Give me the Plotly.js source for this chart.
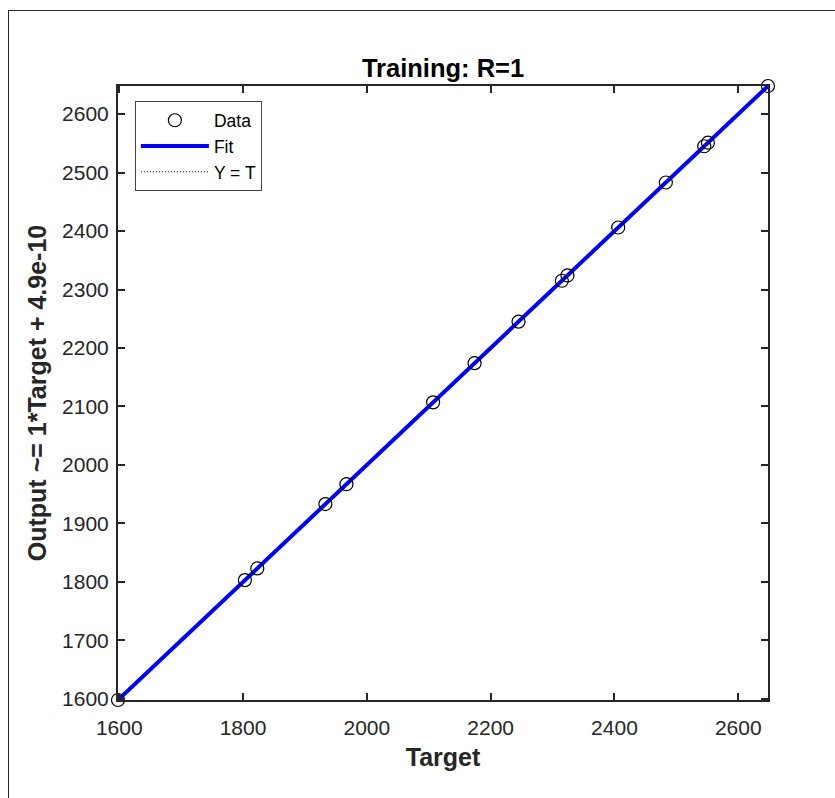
<!DOCTYPE html>
<html>
<head>
<meta charset="utf-8">
<script src="https://cdn.plot.ly/plotly-3.0.1.min.js"></script>
<style>
  html, body { margin: 0; padding: 0; background: #fff; overflow: hidden; }
  #frame { position: absolute; left: 8px; top: 10px; width: 900px; height: 900px; border: 1.5px solid #262626; box-sizing: border-box; }
  #chart { position: absolute; left: 0; top: 0; width: 835px; height: 798px; }
</style>
</head>
<body>
<div id="frame"></div>
<div id="chart"></div>
<script>
// Training targets and network outputs (R = 1, outputs equal targets)
const targets = [1598, 1803, 1823, 1933, 1967, 2107, 2174, 2245, 2315, 2324, 2406, 2483, 2545, 2551, 2648];
const outputs = [1598, 1803, 1823, 1933, 1967, 2107, 2174, 2245, 2315, 2324, 2406, 2483, 2545, 2551, 2648];
const fitSlope = 1;
const fitIntercept = 4.9e-10;
const axisRange = [1598, 2648];
const xTicks = [1600, 1800, 2000, 2200, 2400, 2600];
const yTicks = [1600, 1700, 1800, 1900, 2000, 2100, 2200, 2300, 2400, 2500, 2600];

const fitX = [axisRange[0], axisRange[1]];
const fitY = fitX.map(v => fitSlope * v + fitIntercept);

const FONT = 'Liberation Sans, Arial, sans-serif';
const AX = '#262626';

const traces = [
  {
    x: fitX, y: fitX, mode: 'lines', name: 'Y = T', legendrank: 3,
    line: { color: '#000000', width: 1, dash: '1px,2px' }, hoverinfo: 'skip'
  },
  {
    x: fitX, y: fitY, mode: 'lines', name: 'Fit', legendrank: 2,
    line: { color: '#0000ff', width: 4 }
  },
  {
    x: targets, y: outputs, mode: 'markers', name: 'Data', legendrank: 1,
    marker: { symbol: 'circle-open', size: 13, color: '#000000', line: { color: '#000000', width: 1.2 } },
    cliponaxis: false
  }
];

const axisCommon = {
  range: axisRange, autorange: false,
  showline: true, linecolor: AX, linewidth: 2, mirror: 'ticks',
  ticks: 'inside', ticklen: 7, tickwidth: 2, tickcolor: AX,
  showgrid: false, zeroline: false, automargin: false,
  tickfont: { family: FONT, size: 21, color: AX }
};

const layout = {
  width: 835, height: 798,
  margin: { l: 118, r: 67, t: 86, b: 98 },
  paper_bgcolor: 'rgba(0,0,0,0)', plot_bgcolor: '#ffffff',
  font: { family: FONT, color: AX },
  title: { text: '<b>Training: R=1</b>', font: { family: FONT, size: 25.5, color: '#000000' },
           x: 0.5, xref: 'paper', xanchor: 'center', y: 1, yref: 'paper', yanchor: 'bottom', pad: { b: 9 } },
  xaxis: Object.assign({}, axisCommon, {
    tickvals: xTicks, ticktext: xTicks.map(String), ticklabelstandoff: 8,
    title: { text: '<b>Target</b>', font: { family: FONT, size: 25, color: AX }, standoff: 10 }
  }),
  yaxis: Object.assign({}, axisCommon, {
    tickvals: yTicks, ticktext: yTicks.map(String), ticklabelstandoff: 3,
    title: { text: '<b>Output ~= 1*Target + 4.9e-10</b>', font: { family: FONT, size: 25, color: AX }, standoff: 8 }
  }),
  showlegend: true,
  legend: {
    x: 0.026, y: 0.975, xanchor: 'left', yanchor: 'top',
    bgcolor: '#ffffff', bordercolor: '#444444', borderwidth: 1,
    font: { family: FONT, size: 17.5, color: '#000000' },
    itemwidth: 68, tracegroupgap: 0
  }
};

Plotly.newPlot('chart', traces, layout, { displayModeBar: false, staticPlot: true });
</script>
</body>
</html>
